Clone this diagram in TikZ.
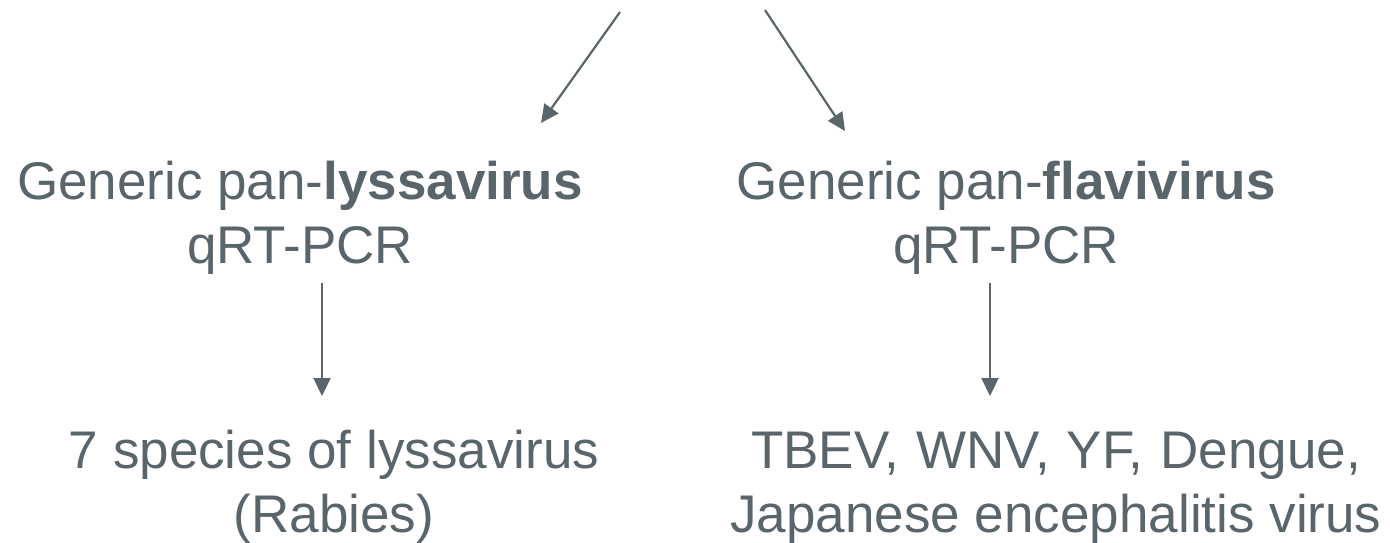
\documentclass[tikz,border=0pt]{standalone}
\usepackage{fontspec}
\setmainfont{Liberation Sans}
\usetikzlibrary{arrows.meta}
\definecolor{txt}{HTML}{59656B}
\begin{document}
\begin{tikzpicture}[x=1pt,y=-1pt,
  lbl/.style={text=txt,font=\fontsize{53}{64}\selectfont,align=center,inner sep=0pt,anchor=base},
  arr/.style={draw=txt,line width=2.2pt,-{Triangle[length=18pt,width=17pt]}}]
\useasboundingbox (0,0) rectangle (1390,542);
\node[lbl] (lys) at (300,263) {Generic pan-\textbf{lyssavirus}\\qRT-PCR};
\node[lbl] (fla) at (1006,263) {Generic pan-\textbf{flavivirus}\\qRT-PCR};
\node[lbl] (lysres) at (334,532) {7 species of lyssavirus\\(Rabies)};
\node[lbl] (flares) at (1056,532) {{\spaceskip=17pt TBEV, WNV, YF, Dengue,}\\Japanese encephalitis virus};
\coordinate (s1) at (620,12);
\coordinate (s2) at (765,10);
\coordinate (e1) at (541,123);
\coordinate (e2) at (845,131);
\draw[arr] (s1) -- (e1);
\draw[arr] (s2) -- (e2);
\coordinate (v1s) at (322,283);
\coordinate (v1e) at (322,396);
\coordinate (v2s) at (990,283);
\coordinate (v2e) at (990,396);
\draw[arr] (v1s) -- (v1e);
\draw[arr] (v2s) -- (v2e);
\end{tikzpicture}
\end{document}
